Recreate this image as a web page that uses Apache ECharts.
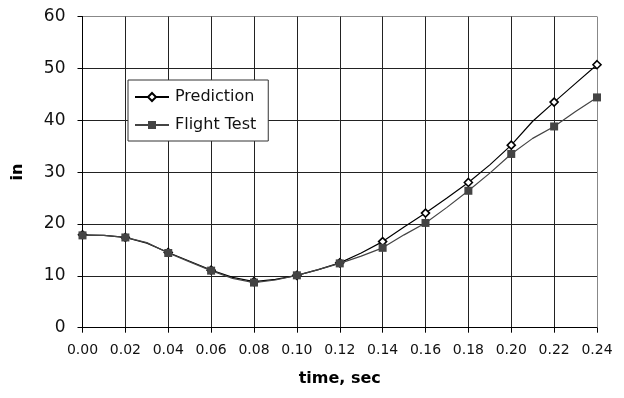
<!DOCTYPE html>
<html>
<head>
<meta charset="utf-8">
<script src="https://cdn.jsdelivr.net/npm/echarts@6/dist/echarts.min.js"></script>
<style>
  html, body { margin: 0; padding: 0; background: #fff; }
  #chart { width: 624px; height: 398px; }
</style>
</head>
<body>
<div id="chart"></div>
<script>
// Sample times (sec); markers are drawn every 0.02 s
const timeSec = [0.00, 0.01, 0.02, 0.03, 0.04, 0.05, 0.06, 0.07, 0.08, 0.09, 0.10, 0.11, 0.12,
                 0.13, 0.14, 0.15, 0.16, 0.17, 0.18, 0.19, 0.20, 0.21, 0.22, 0.23, 0.24];
// Displacement (in)
const prediction = [17.9, 17.8, 17.4, 16.3, 14.5, 12.8, 11.1, 9.7, 8.9, 9.3, 10.1, 11.2, 12.5,
                    14.4, 16.6, 19.4, 22.1, 25.0, 28.0, 31.4, 35.2, 39.8, 43.5, 47.1, 50.7];
const flightTest = [17.8, 17.8, 17.4, 16.4, 14.4, 12.7, 11.0, 9.5, 8.7, 9.2, 10.1, 11.2, 12.4,
                    13.8, 15.4, 17.9, 20.2, 23.2, 26.4, 29.8, 33.5, 36.5, 38.8, 41.7, 44.4];
const seriesNames = ['Prediction', 'Flight Test'];
const xAxisTitle = 'time, sec';
const yAxisTitle = 'in';

const pairs = (ys) => timeSec.map((t, i) => [t, ys[i]]);
const markerSize = (v, p) => (p.dataIndex % 2 === 0 ? 8 : 0);

// Grid line colours: dark inside, lighter on the outer (top / right) frame
const gridColors = (n) => Array.from({ length: n }, (_, i) => (i === n - 1 ? '#888' : '#222'));

const chart = echarts.init(document.getElementById('chart'), null, { renderer: 'canvas' });
const fontFamily = '"DejaVu Sans", "Liberation Sans", Arial, sans-serif';

chart.setOption({
  animation: false,
  backgroundColor: '#fff',
  grid: { left: 82.5, right: 27, top: 16.5, bottom: 70.3 },
  legend: {
    orient: 'vertical',
    left: 128, top: 80,
    backgroundColor: '#fff',
    borderColor: '#333', borderWidth: 1, borderRadius: 0,
    padding: [9, 12, 8, 6],
    itemWidth: 34, itemHeight: 10, itemGap: 12,
    textStyle: { fontFamily, fontSize: 16, color: '#111', padding: [0, 0, 0, 1] },
    data: seriesNames
  },
  xAxis: {
    type: 'value', min: 0, max: 0.24, interval: 0.02,
    name: xAxisTitle, nameLocation: 'middle', nameGap: 43,
    nameTextStyle: { fontFamily, fontSize: 16, fontWeight: 'bold', color: '#000' },
    axisLine: { show: true, onZero: false, lineStyle: { color: '#000', width: 1 } },
    axisTick: { show: true, length: 5, lineStyle: { color: '#000' } },
    axisLabel: { margin: 16, fontFamily, fontSize: 14, color: '#111',
                 formatter: v => v.toFixed(2) },
    splitLine: { show: true, lineStyle: { color: gridColors(13), width: 1 } }
  },
  yAxis: {
    type: 'value', min: 0, max: 60, interval: 10,
    name: yAxisTitle, nameLocation: 'middle', nameGap: 57,
    nameTextStyle: { fontFamily, fontSize: 16, fontWeight: 'bold', color: '#000' },
    axisLine: { show: true, lineStyle: { color: '#000', width: 1 } },
    axisTick: { show: true, length: 5, lineStyle: { color: '#000' } },
    axisLabel: { margin: 17, fontFamily, fontSize: 17, color: '#111' },
    splitLine: { show: true, lineStyle: { color: gridColors(7), width: 1 } }
  },
  series: [
    {
      name: seriesNames[0],
      type: 'line',
      data: pairs(prediction),
      symbol: 'diamond',
      symbolSize: markerSize,
      showAllSymbol: true,
      lineStyle: { color: '#000', width: 1.2 },
      itemStyle: { color: '#fff', borderColor: '#000', borderWidth: 1.6 },
      z: 3
    },
    {
      name: seriesNames[1],
      type: 'line',
      data: pairs(flightTest),
      symbol: 'rect',
      symbolSize: markerSize,
      showAllSymbol: true,
      lineStyle: { color: '#444', width: 1.2 },
      itemStyle: { color: '#444', borderColor: '#444', borderWidth: 0 },
      z: 4
    }
  ]
});
</script>
</body>
</html>
